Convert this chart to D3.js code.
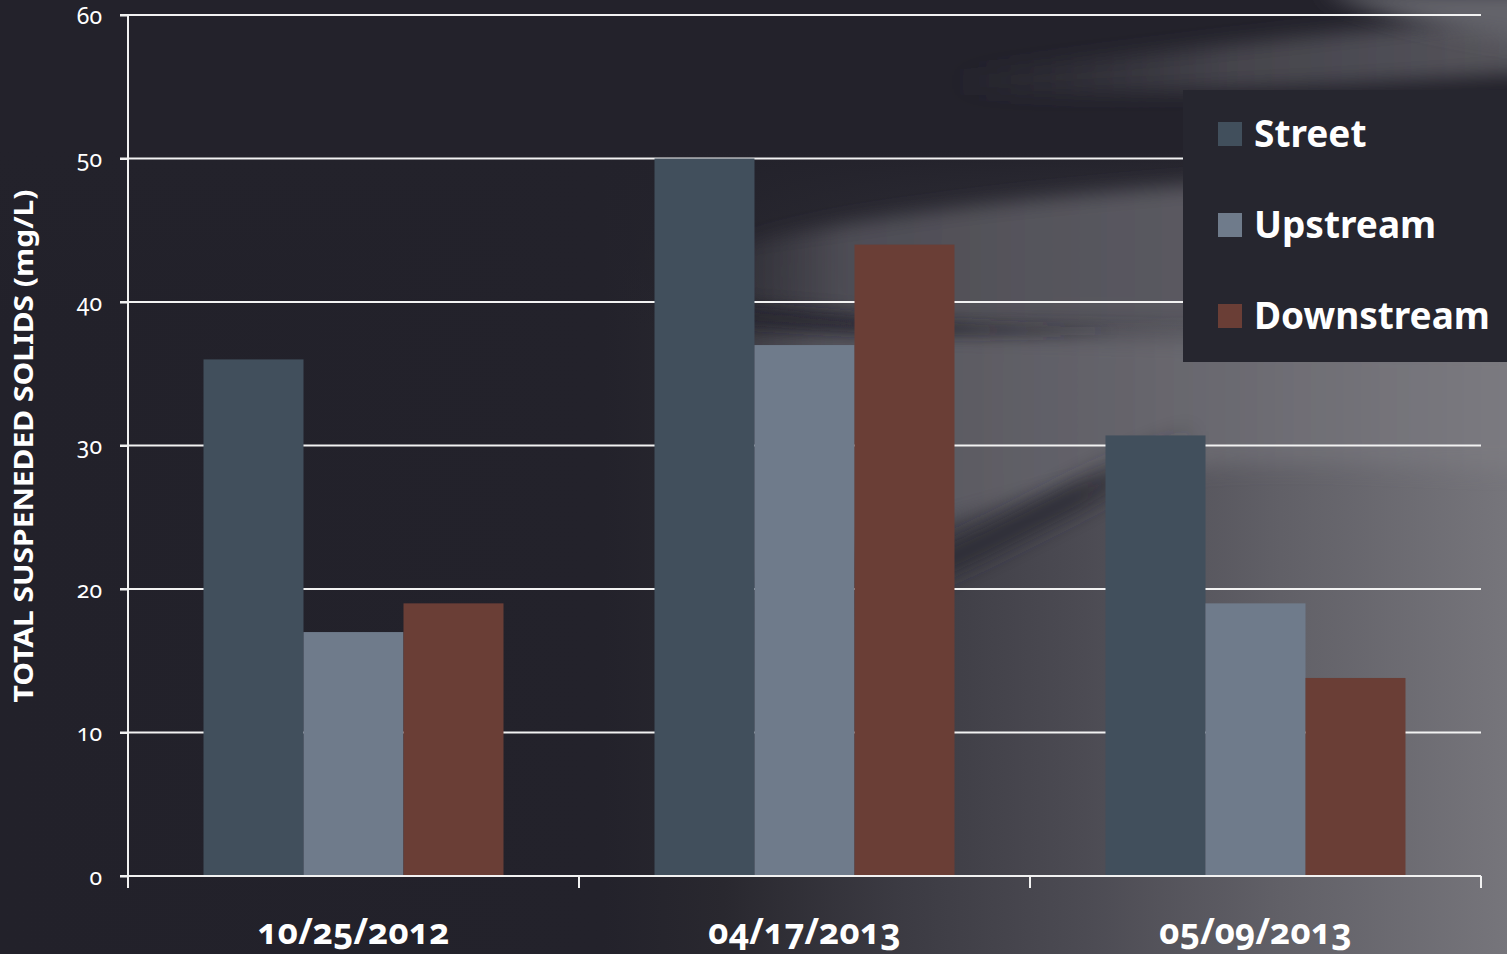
<!DOCTYPE html>
<html><head><meta charset="utf-8">
<script src="https://cdn.jsdelivr.net/npm/d3@7"></script>
<style>
html,body{margin:0;padding:0;background:#23222b;}
svg{display:block;}
text{font-family:"Noto Sans","Open Sans",sans-serif;fill:#fff;}
.onum{font-feature-settings:"onum" 1;font-variant-numeric:oldstyle-nums;}
</style></head>
<body>
<script>
const dates = ["10/25/2012","04/17/2013","05/09/2013"];
const seriesNames = ["Street","Upstream","Downstream"];
const street = [36, 50, 30.7];
const upstream = [17, 37, 19];
const downstream = [19, 44, 13.8];
const seriesColors = ["#414f5c","#6f7b8b","#6a3e36"];
const yTicks = [0,10,20,30,40,50,60];
const yLabel = "TOTAL SUSPENEDED SOLIDS (mg/L)";

(function(){
const values = [street, upstream, downstream];
const W = 1507, H = 954;
const mLeft = 128, mRight = 1481, mTop = 15, mBottom = 876;

const svg = d3.select("body").append("svg").attr("width", W).attr("height", H);
const defs = svg.append("defs");

function grad(id, stops, x1, y1, x2, y2){
  const g = defs.append("linearGradient").attr("id",id).attr("gradientUnits","userSpaceOnUse")
    .attr("x1",x1).attr("x2",x2).attr("y1",y1).attr("y2",y2);
  stops.forEach(s => g.append("stop").attr("offset",s[0]).attr("stop-color",s[1]).attr("stop-opacity", s[2]==null?1:s[2]));
}
function blurF(id, sd){
  defs.append("filter").attr("id",id).attr("x","-20%").attr("y","-50%").attr("width","140%").attr("height","200%")
    .append("feGaussianBlur").attr("stdDeviation",sd);
}
grad("bgBase", [[0,"#22212a"],[0.40,"#23222b"],[0.48,"#29282f"],[0.60,"#3c3b43"],[0.72,"#4c4b53"],[0.85,"#616067"],[1,"#76757b"]], 0,0,1507,0);
grad("topDark", [[0,"#23222b",1],[0.45,"#23222b",1],[0.75,"#23222b",0.6],[1,"#23222b",0]], 0,0,0,330);
grad("upperBand", [[0,"#3a3941",0],[0.2,"#4e4d55"],[0.6,"#5a5960"],[1,"#66656c"]], 680,0,1507,0);
grad("midBand", [[0,"#4a4951",0],[0.2,"#55545c"],[0.6,"#67666d"],[1,"#7b7a80"]], 650,0,1507,0);
grad("topBand", [[0,"#3a3941",0],[0.5,"#45444c"],[1,"#55545b"]], 950,0,1507,0);
grad("streakFade", [[0,"#2b2a32",0],[0.2,"#2b2a32",0.85],[0.75,"#2b2a32",0.85],[1,"#2b2a32",0]], 700,0,1200,0);
grad("thinFade", [[0,"#2a2931",0.6],[0.6,"#2a2931",0.6],[1,"#2a2931",0]], 680,0,1120,0);
blurF("b6", 6); blurF("b10", 10);

svg.append("rect").attr("width",W).attr("height",H).attr("fill","url(#bgBase)");
svg.append("rect").attr("width",W).attr("height",330).attr("fill","url(#topDark)");
const bg = svg.append("g");
bg.append("path").attr("d","M700,255 C820,222 1000,200 1200,185 C1350,175 1450,168 1560,165 L1560,320 C1350,325 1150,320 980,322 C860,318 770,305 700,292 Z")
  .attr("fill","url(#upperBand)").attr("filter","url(#b10)");
bg.append("path").attr("d","M680,335 C850,330 1050,335 1250,340 C1400,345 1480,345 1560,345 L1560,470 C1400,470 1250,450 1100,480 C950,520 800,560 680,600 Z")
  .attr("fill","url(#midBand)").attr("filter","url(#b10)");
bg.append("path").attr("d","M680,300 C800,312 900,322 1000,325 C1050,326 1090,326 1120,326 L1120,336 C1090,336 1050,337 1000,336 C900,335 800,330 680,320 Z")
  .attr("fill","url(#thinFade)").attr("filter","url(#b6)");
bg.append("path").attr("d","M700,640 C820,600 920,560 1000,520 C1080,480 1150,440 1250,400 L1260,428 C1160,468 1090,505 1010,545 C920,590 820,630 700,670 Z")
  .attr("fill","url(#streakFade)").attr("filter","url(#b10)");
bg.append("path").attr("d","M950,70 C1150,55 1350,30 1560,10 L1560,70 C1350,85 1150,95 950,95 Z")
  .attr("fill","url(#topBand)").attr("filter","url(#b10)");
bg.append("path").attr("d","M1320,-10 L1560,-10 L1560,45 C1470,35 1390,20 1320,-10 Z")
  .attr("fill","#64636a").attr("filter","url(#b10)");

const x0 = d3.scaleBand().domain(dates).range([mLeft, mRight]).paddingInner(0).paddingOuter(0);
const x1 = d3.scaleBand().domain(seriesNames).range([0, x0.bandwidth()]).paddingInner(0).paddingOuter(0.755);
const y = d3.scaleLinear().domain([0, 60]).range([mBottom, mTop]);
const color = d3.scaleOrdinal().domain(seriesNames).range(seriesColors);

svg.append("g").selectAll("line").data(yTicks.filter(d=>d>0)).join("line")
  .attr("x1", mLeft - 8).attr("x2", mRight)
  .attr("y1", d => y(d)).attr("y2", d => y(d))
  .attr("stroke", "#f2f2f2").attr("stroke-width", 2);

const groups = svg.append("g").selectAll("g").data(dates).join("g")
  .attr("transform", d => `translate(${x0(d)},0)`);
groups.selectAll("rect").data((d,i) => seriesNames.map((s,j) => ({s, v: values[j][i]}))).join("rect")
  .attr("x", d => x1(d.s)).attr("width", x1.bandwidth())
  .attr("y", d => y(d.v)).attr("height", d => y(0) - y(d.v))
  .attr("fill", d => color(d.s));

const yAxis = d3.axisLeft(y).tickValues(yTicks).tickSize(8).tickPadding(18);
const ya = svg.append("g").attr("transform", `translate(${mLeft},0)`).call(yAxis);
ya.select(".domain").remove();
ya.selectAll(".tick line").attr("stroke","#f2f2f2").attr("stroke-width",2);
ya.selectAll(".tick text").attr("class","onum").style("font-size","23px").attr("fill","#fff").style("font-family",'"Noto Sans",sans-serif').attr("dy","0.35em");
svg.append("line").attr("x1",mLeft).attr("x2",mLeft).attr("y1",mTop).attr("y2",mBottom+12).attr("stroke","#f2f2f2").attr("stroke-width",2);

svg.append("line").attr("x1",mLeft-8).attr("x2",mRight).attr("y1",mBottom).attr("y2",mBottom).attr("stroke","#f2f2f2").attr("stroke-width",2);
const xTickPos = dates.map(d => x0(d)).concat([x0(dates[dates.length-1]) + x0.bandwidth()]);
svg.append("g").selectAll("line").data(xTickPos).join("line")
  .attr("x1", d=>d).attr("x2", d=>d).attr("y1", mBottom).attr("y2", mBottom+12)
  .attr("stroke","#f2f2f2").attr("stroke-width",2);
svg.append("g").selectAll("text").data(dates).join("text")
  .attr("class","onum")
  .attr("x", d => x0(d) + x0.bandwidth()/2).attr("y", 944)
  .attr("text-anchor","middle").style("font-size","35px").style("font-weight","bold")
  .text(d => d);

svg.append("text").attr("transform","translate(33,446) rotate(-90)")
  .attr("text-anchor","middle").style("font-size","27px").style("font-weight","bold")
  .attr("textLength",513).attr("lengthAdjust","spacingAndGlyphs")
  .text(yLabel);

const lgG = svg.append("g");
lgG.append("rect").attr("x",1183).attr("y",90).attr("width",W-1183).attr("height",272).attr("fill","#26262f");
const items = lgG.selectAll("g").data(seriesNames).join("g")
  .attr("transform",(d,i)=>`translate(1218,${122 + i*91})`);
items.append("rect").attr("width",24).attr("height",24).attr("fill",d=>color(d));
items.append("text").attr("x",36).attr("y",25).style("font-size","37px").style("font-weight","bold").text(d=>d);
})();
</script>
</body></html>
